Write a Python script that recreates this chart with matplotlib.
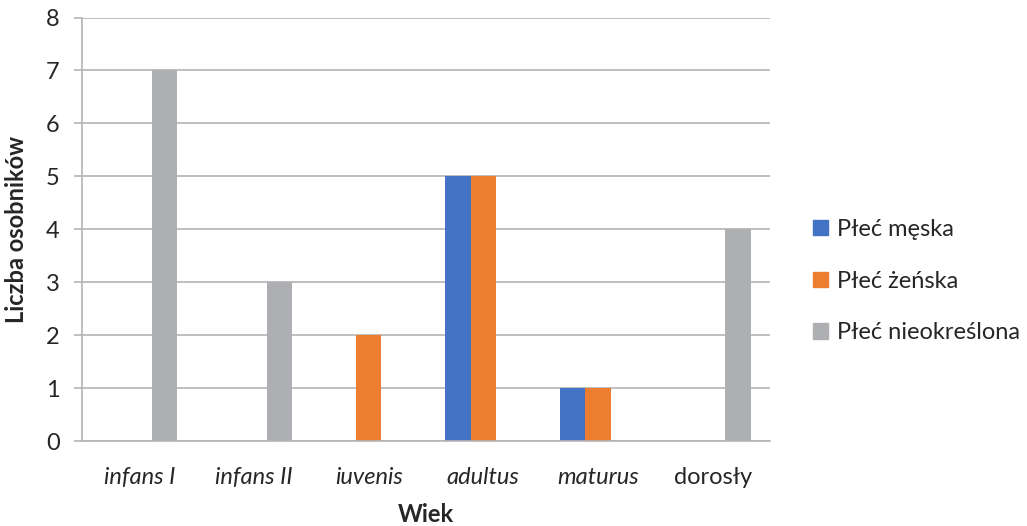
import matplotlib
matplotlib.use('Agg')
import matplotlib.pyplot as plt
from matplotlib.patches import Patch
import numpy as np

categories = ['infans I', 'infans II', 'iuvenis', 'adultus', 'maturus', 'dorosły']
italic_cats = [True, True, True, True, True, False]
male = [0, 0, 0, 5, 1, 0]
female = [0, 0, 2, 5, 1, 0]
undetermined = [7, 3, 0, 0, 0, 4]
series_names = ['Płeć męska', 'Płeć żeńska', 'Płeć nieokreślona']
colors = ['#4472C4', '#ED7D31', '#AEAFB3']
grid_c = '#B4B4B4'

plt.rcParams['font.family'] = ['Lato', 'DejaVu Sans']
fs = 17

fig = plt.figure(figsize=(10.27, 5.26), dpi=100)
ax = fig.add_axes([82/1027, 85/526, (770-82)/1027, (441-17.5)/526])

x = np.arange(len(categories))
w = 0.22
for i, (vals, c) in enumerate(zip([male, female, undetermined], colors)):
    ax.bar(x + (i-1)*w, vals, w, color=c, zorder=3, linewidth=0)

ax.set_xlim(-0.5, len(categories)-0.5)
ax.set_ylim(0, 8)
ax.set_yticks(range(0, 9))
ax.yaxis.grid(True, color=grid_c, lw=1.2, zorder=0)
for s in ['top', 'right']:
    ax.spines[s].set_visible(False)
for s in ['left', 'bottom']:
    ax.spines[s].set_color(grid_c)
    ax.spines[s].set_linewidth(1.2)
ax.spines['bottom'].set_zorder(4)
ax.tick_params(axis='y', length=6, width=1.2, color=grid_c, pad=10, labelsize=fs, labelcolor='#262626')
ax.tick_params(axis='x', length=0, pad=19, labelsize=fs, labelcolor='#262626')
ax.set_xticks(x)
ax.set_xticklabels(categories)
for lbl, it in zip(ax.get_xticklabels(), italic_cats):
    if it:
        lbl.set_style('italic')

ax.set_xlabel('Wiek', fontsize=fs, fontweight='bold', labelpad=10.5, color='#262626')
ax.set_ylabel('Liczba osobników', fontsize=fs, fontweight='bold', labelpad=13, color='#262626')

handles = [Patch(color=c, label=n) for c, n in zip(colors, series_names)]
fig.legend(handles=handles, loc='center left', bbox_to_anchor=(792/1027, 1-281/526),
           frameon=False, fontsize=fs, handlelength=0.62, handleheight=0.62,
           handletextpad=0.4, labelspacing=1.3, labelcolor='#262626')

fig.savefig('out.png', dpi=100)
